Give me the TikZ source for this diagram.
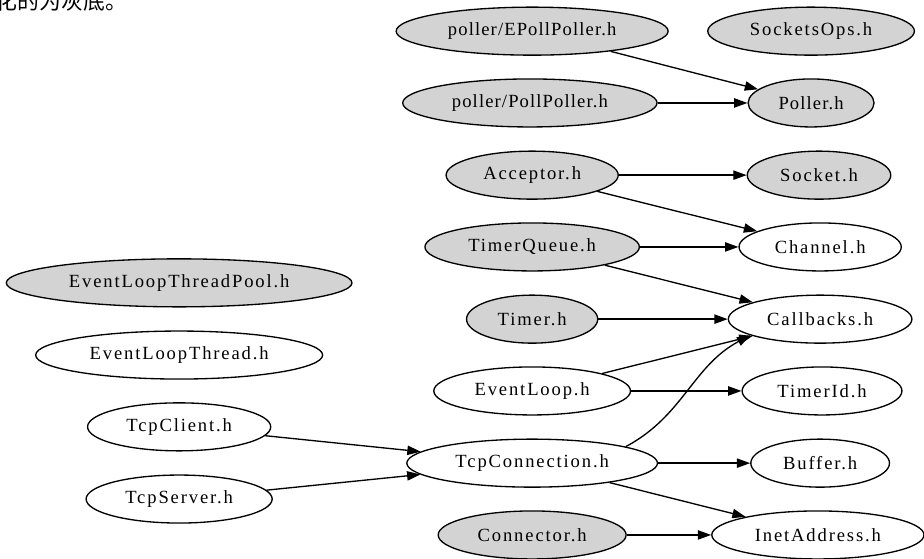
\documentclass[tikz,border=0pt]{standalone}
\usepackage{fontspec}
\usetikzlibrary{shapes.geometric,arrows.meta}
\newfontfamily\gvfont[LetterSpace=10]{Liberation Serif}
\newfontfamily\gvtight[LetterSpace=6]{Liberation Serif}
\newfontfamily\cjk{Noto Sans CJK SC}
\definecolor{gvgray}{HTML}{D3D3D3}
\tikzset{
	hdr/.style={ellipse, draw, line width=1pt, minimum height=1.27cm, inner xsep=9pt, inner ysep=2pt, font=\gvfont\fontsize{14}{16}\selectfont},
	grayhdr/.style={hdr, fill=gvgray},
	tighthdr/.style={grayhdr, font=\gvtight\fontsize{14}{16}\selectfont},
	dep/.style={-{Triangle[length=10pt,width=7pt]}, line width=1pt},
}

\begin{document}
\begin{tikzpicture}
		%%%%% START %%%%%
		\useasboundingbox (0, 0) rectangle (24.448, 14.764);
		\node[anchor=base west, font=\cjk\fontsize{16.5}{18}\selectfont] (note) at (-0.24, 14.51) {化的为灰底。};
		
		% right part
		\node[tighthdr] (epoll) at (14.08, 13.94) {poller/EPollPoller.h};
		\node[grayhdr] (sockops) at (21.46, 13.94) {SocketsOps.h};
		\node[tighthdr] (pollpoller) at (14.02, 12.04) {poller/PollPoller.h};
		\node[tighthdr] (poller) at (21.46, 12.04) {Poller.h};
		\node[grayhdr] (acceptor) at (14.08, 10.13) {Acceptor.h};
		\node[grayhdr] (socket) at (21.67, 10.13) {Socket.h};
		\node[grayhdr] (timerqueue) at (14.08, 8.23) {TimerQueue.h};
		\node[hdr] (channel) at (21.70, 8.23) {Channel.h};
		\node[grayhdr] (timer) at (14.08, 6.32) {Timer.h};
		\node[hdr] (callbacks) at (21.70, 6.32) {Callbacks.h};
		\node[hdr] (eventloop) at (14.08, 4.42) {EventLoop.h};
		\node[hdr] (timerid) at (21.75, 4.42) {TimerId.h};
		\node[hdr] (tcpconn) at (14.08, 2.51) {TcpConnection.h};
		\node[hdr] (buffer) at (21.70, 2.51) {Buffer.h};
		\node[grayhdr] (connector) at (14.08, 0.61) {Connector.h};
		\node[hdr] (inetaddr) at (21.64, 0.61) {InetAddress.h};
		
		% left part
		\node[grayhdr] (pool) at (4.74, 7.28) {EventLoopThreadPool.h};
		\node[hdr] (loopthread) at (4.74, 5.37) {EventLoopThread.h};
		\node[hdr] (client) at (4.74, 3.47) {TcpClient.h};
		\node[hdr] (server) at (4.74, 1.56) {TcpServer.h};
		
		% includes
		\draw[dep] (epoll) -- (poller);
		\draw[dep] (pollpoller) -- (poller);
		\draw[dep] (acceptor) -- (socket);
		\draw[dep] (acceptor) -- (channel);
		\draw[dep] (timerqueue) -- (channel);
		\draw[dep] (timerqueue) -- (callbacks);
		\draw[dep] (timer) -- (callbacks);
		\draw[dep] (eventloop) -- (callbacks);
		\draw[dep] (eventloop) -- (timerid);
		\draw[dep] (tcpconn.10) to[out=28, in=208] (callbacks.193);
		\draw[dep] (tcpconn) -- (buffer);
		\draw[dep] (tcpconn) -- (inetaddr);
		\draw[dep] (connector) -- (inetaddr);
		\draw[dep] (client) -- (tcpconn);
		\draw[dep] (server) -- (tcpconn);
		%%%%% END %%%%%
\end{tikzpicture}
\end{document}
